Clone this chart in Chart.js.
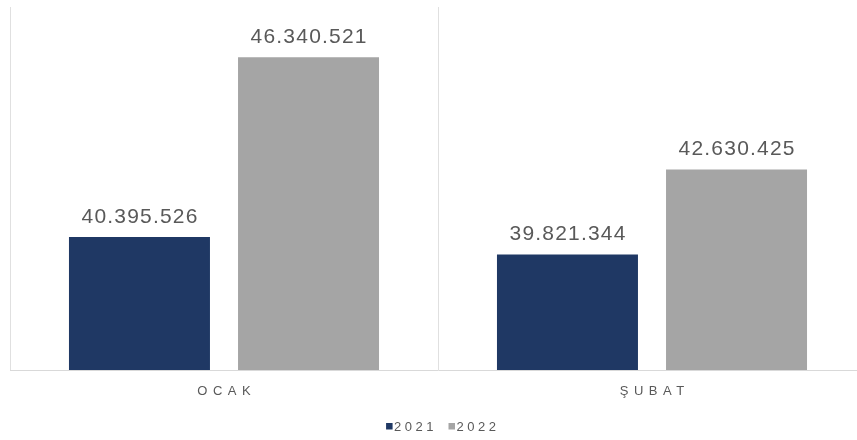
<!DOCTYPE html>
<html>
<head>
<meta charset="utf-8">
<script src="https://cdn.jsdelivr.net/npm/chart.js@4"></script>
<style>
  html, body { margin: 0; padding: 0; background: #ffffff; overflow: hidden; }
  #wrap { width: 857px; height: 440px; overflow: hidden; }
  #c { display: block; }
</style>
</head>
<body>
<div id="wrap"><canvas id="c" width="866" height="440"></canvas></div>
<script>
// Monthly totals, January and February, two years side by side
const months = ['OCAK', 'ŞUBAT'];
const years = ['2021', '2022'];
const values2021 = [40395526, 39821344];
const values2022 = [46340521, 42630425];
const yMin = 36000000;
const yMax = 48000000;

const barColors = ['#1f3864', '#a5a5a5'];
const textColor = '#595959';
const fontFamily = '"Liberation Sans", Arial, Helvetica, sans-serif';

// 40395526 -> "40.395.526"
function formatTR(n) {
  return String(n).replace(/\B(?=(\d{3})+(?!\d))/g, '.');
}

// Draws text centred on cx with extra spacing between letters
function spacedText(ctx, text, cx, y, spacing) {
  ctx.letterSpacing = spacing + 'px';
  ctx.textAlign = 'center';
  ctx.fillText(text, cx + spacing / 2, y);
}

const decorations = {
  id: 'decorations',
  afterDatasetsDraw(chart) {
    const ctx = chart.ctx;
    ctx.save();
    ctx.fillStyle = textColor;
    ctx.font = '21px ' + fontFamily;
    ctx.textBaseline = 'alphabetic';
    chart.data.datasets.forEach((ds, i) => {
      chart.getDatasetMeta(i).data.forEach((bar, j) => {
        spacedText(ctx, formatTR(ds.data[j]), bar.x, bar.y - 14.5, 1.2);
      });
    });
    ctx.restore();
  },
  afterDraw(chart) {
    const ctx = chart.ctx;
    const area = chart.chartArea;
    const xScale = chart.scales.x;
    ctx.save();
    ctx.fillStyle = textColor;
    ctx.textBaseline = 'alphabetic';

    // category labels under the axis
    ctx.font = '13px ' + fontFamily;
    chart.data.labels.forEach((label, i) => {
      spacedText(ctx, label, xScale.getPixelForValue(i), area.bottom + 25, 5.5);
    });

    // legend: small square + year, centred under the plot
    const spacing = 3.5;
    const box = 6.5;
    const boxGap = 1.5;
    const itemGap = 15;
    ctx.font = '13px ' + fontFamily;
    ctx.letterSpacing = spacing + 'px';
    const items = chart.data.datasets.map(ds => {
      const w = ctx.measureText(ds.label).width - spacing;
      return { label: ds.label, color: ds.backgroundColor, w };
    });
    const total = items.reduce((s, it) => s + box + boxGap + it.w, 0) + itemGap * (items.length - 1);
    let x = (area.left + area.right) / 2 + 3 - total / 2;
    const baseY = area.bottom + 61;
    ctx.textAlign = 'left';
    items.forEach(it => {
      ctx.fillStyle = it.color;
      ctx.fillRect(x, baseY - 8, box, box);
      x += box + boxGap;
      ctx.fillStyle = textColor;
      ctx.fillText(it.label, x, baseY);
      x += it.w + itemGap;
    });
    ctx.restore();
  }
};

new Chart(document.getElementById('c'), {
  type: 'bar',
  data: {
    labels: months,
    datasets: [
      { label: years[0], data: values2021, backgroundColor: barColors[0] },
      { label: years[1], data: values2022, backgroundColor: barColors[1] }
    ]
  },
  options: {
    responsive: false,
    animation: false,
    layout: { padding: { left: 10, right: 0, top: 7, bottom: 70 } },
    datasets: {
      bar: { categoryPercentage: 0.79, barPercentage: 0.834 }
    },
    plugins: {
      legend: { display: false },
      tooltip: { enabled: false }
    },
    scales: {
      x: {
        offset: true,
        grid: { display: true, offset: true, color: '#e0e0e0', lineWidth: 1, drawTicks: false },
        border: { display: true, color: '#d9d9d9', width: 1 },
        ticks: { display: false }
      },
      y: {
        display: false,
        min: yMin,
        max: yMax,
        grid: { display: false }
      }
    }
  },
  plugins: [decorations]
});
</script>
</body>
</html>
